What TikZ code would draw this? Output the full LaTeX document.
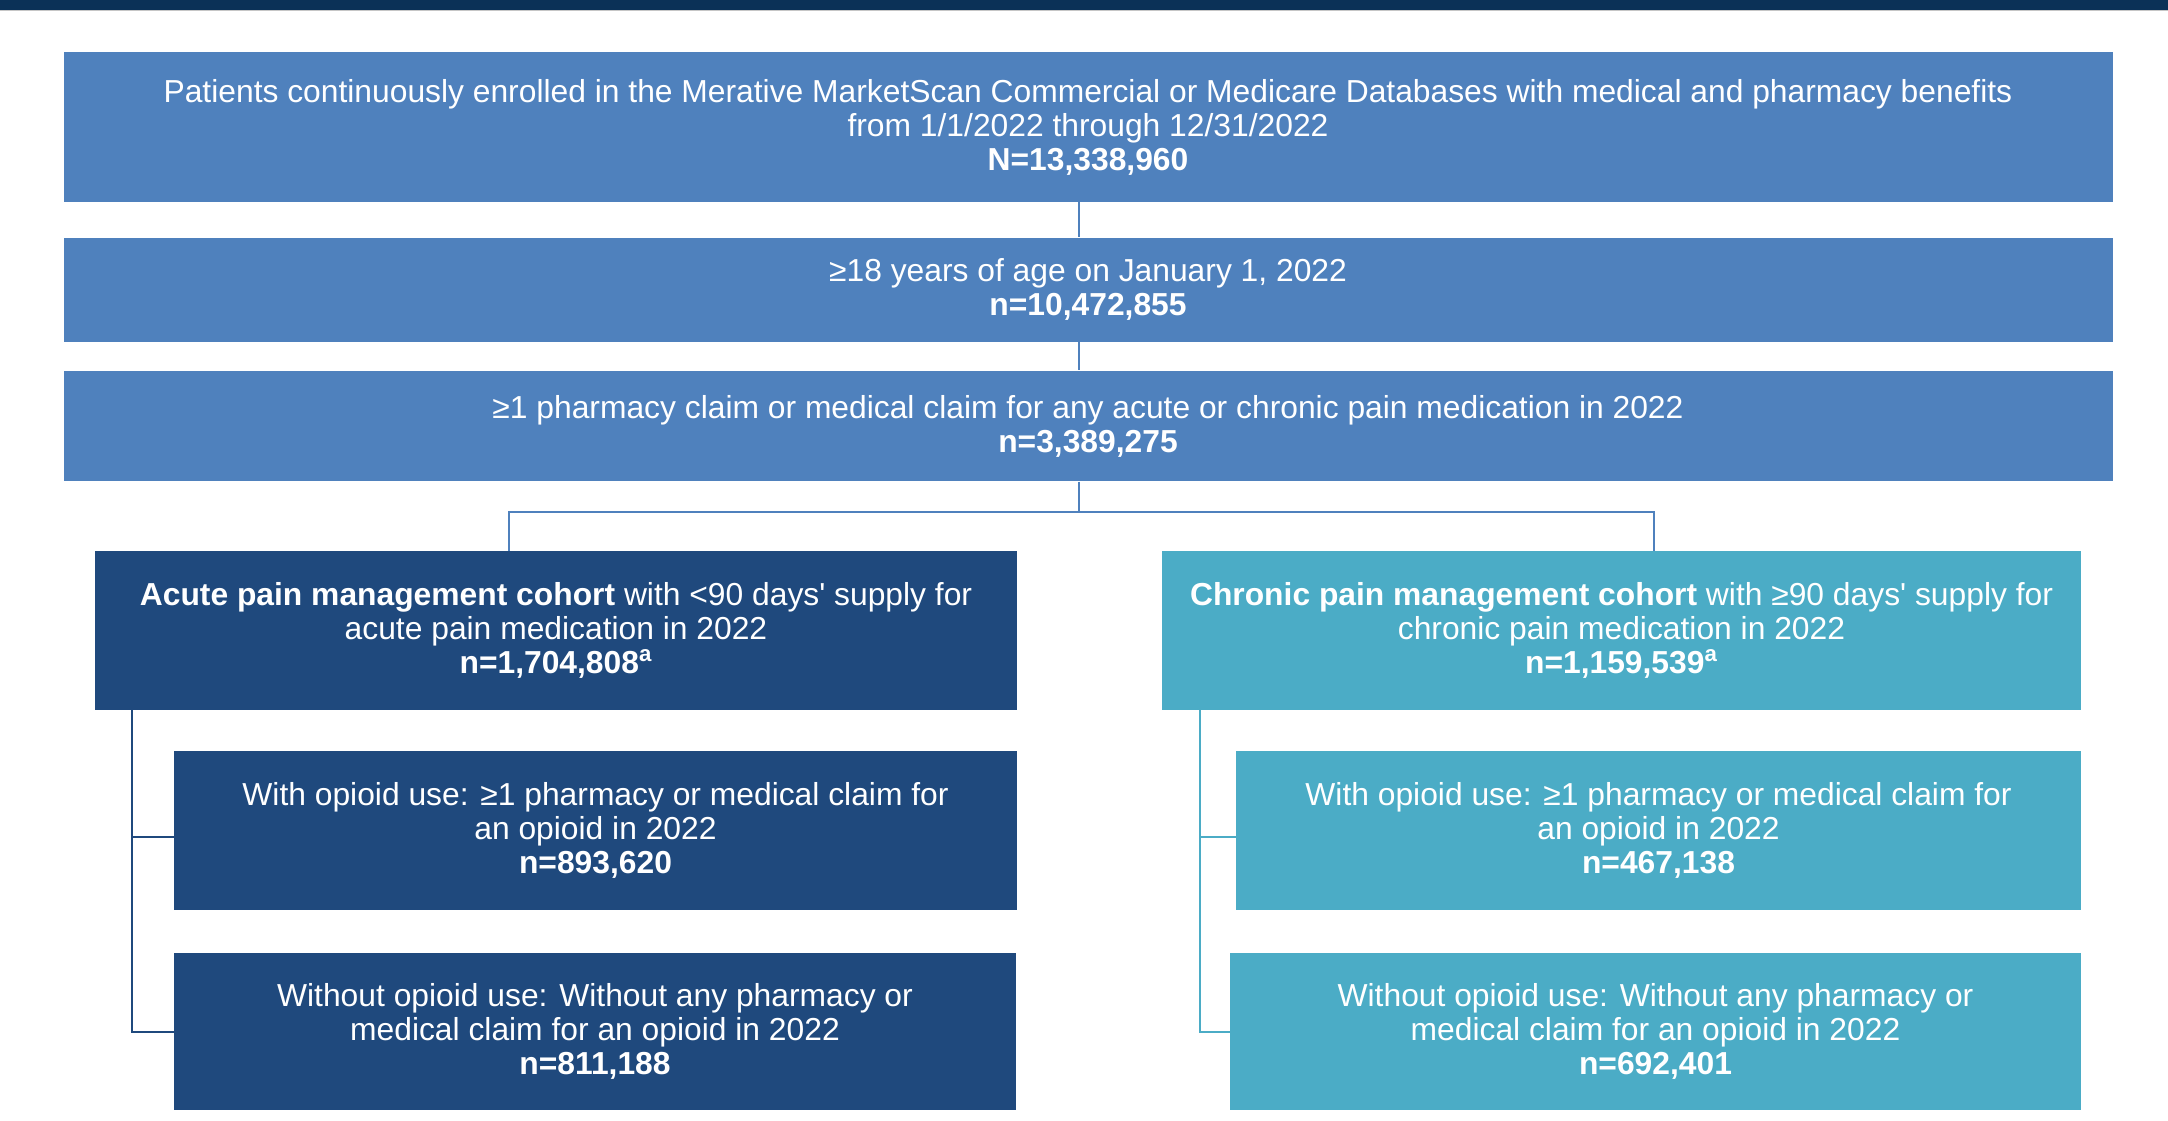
\documentclass[tikz,border=0pt]{standalone}
\usepackage{fontspec}
\setmainfont{Liberation Sans}
\usetikzlibrary{positioning}

\definecolor{barnavy}{HTML}{0B3157}
\definecolor{stepblue}{HTML}{4F81BD}
\definecolor{acutenavy}{HTML}{1F497D}
\definecolor{chronicteal}{HTML}{4BACC6}

\begin{document}
\begin{tikzpicture}[x=0.5pt, y=-0.5pt,
        box/.style={fill=#1, text=white, align=center, inner sep=0pt,
            font=\fontsize{15.9}{17}\selectfont},
        link/.style={draw=#1, line width=1pt}]
    \useasboundingbox (0,0) rectangle (2168,1120);
    % header band
    \fill[barnavy] (0,0) rectangle (2168,10);
    \draw[gray!45, line width=0.6pt] (0,10.5) -- (2168,10.5);

    % selection steps
    \node[box=stepblue, minimum width=1024.5pt, minimum height=74.75pt] (enrolled) at (1088,127) {Patients continuously enrolled in the Merative MarketScan Commercial or Medicare Databases with medical and pharmacy benefits\\from 1/1/2022 through 12/31/2022\\\textbf{N=13,338,960}};
    \node[box=stepblue, minimum width=1024.5pt, minimum height=51.85pt] (adult) at (1088,289.7) {≥18 years of age on January 1, 2022\\\textbf{n=10,472,855}};
    \node[box=stepblue, minimum width=1024.5pt, minimum height=55.3pt] (claim) at (1088,426) {≥1 pharmacy claim or medical claim for any acute or chronic pain medication in 2022\\\textbf{n=3,389,275}};

    % cohorts
    \node[box=acutenavy, minimum width=461pt, minimum height=79.5pt] (acute) at (556,630.5) {\textbf{Acute pain management cohort} with <90 days\textquotesingle{} supply for\\acute pain medication in 2022\\\textbf{n=1,704,808\textsuperscript{a}}};
    \node[box=chronicteal, minimum width=459.5pt, minimum height=79.5pt] (chronic) at (1621.5,630.5) {\textbf{Chronic pain management cohort} with ≥90 days\textquotesingle{} supply for\\chronic pain medication in 2022\\\textbf{n=1,159,539\textsuperscript{a}}};

    % opioid subgroups
    \node[box=acutenavy, minimum width=421.5pt, minimum height=79.5pt] (acuteOpioid) at (595.5,830.5) {With opioid use: ≥1 pharmacy or medical claim for\\an opioid in 2022\\\textbf{n=893,620}};
    \node[box=acutenavy, minimum width=421pt, minimum height=78.5pt] (acuteNoOpioid) at (595,1031.5) {Without opioid use: Without any pharmacy or\\medical claim for an opioid in 2022\\\textbf{n=811,188}};
    \node[box=chronicteal, minimum width=422.5pt, minimum height=79.5pt] (chronicOpioid) at (1658.5,830.5) {With opioid use: ≥1 pharmacy or medical claim for\\an opioid in 2022\\\textbf{n=467,138}};
    \node[box=chronicteal, minimum width=425.5pt, minimum height=78.5pt] (chronicNoOpioid) at (1655.5,1031.5) {Without opioid use: Without any pharmacy or\\medical claim for an opioid in 2022\\\textbf{n=692,401}};

    % connectors
    \coordinate (spine) at (1078.5,0);
    \coordinate (split) at (1078.5,512);
    \coordinate (acuteDrop) at (509,512);
    \coordinate (chronicDrop) at (1654,512);
    \coordinate (acuteTrunk) at (131.5,0);
    \coordinate (chronicTrunk) at (1200,0);

    \draw[link=stepblue] (enrolled.south -| spine) -- (adult.north -| spine);
    \draw[link=stepblue] (adult.south -| spine) -- (claim.north -| spine);
    \draw[link=stepblue] (claim.south -| spine) -- (split);
    \draw[link=stepblue] (acute.north -| acuteDrop) -- (acuteDrop) -- (chronicDrop) -- (chronic.north -| chronicDrop);

    \draw[link=acutenavy] (acute.south -| acuteTrunk) |- (acuteNoOpioid.west);
    \draw[link=acutenavy] ([yshift=-3pt]acuteOpioid.west -| acuteTrunk) -- ([yshift=-3pt]acuteOpioid.west);
    \draw[link=chronicteal] (chronic.south -| chronicTrunk) |- (chronicNoOpioid.west);
    \draw[link=chronicteal] ([yshift=-3pt]chronicOpioid.west -| chronicTrunk) -- ([yshift=-3pt]chronicOpioid.west);
\end{tikzpicture}
\end{document}
